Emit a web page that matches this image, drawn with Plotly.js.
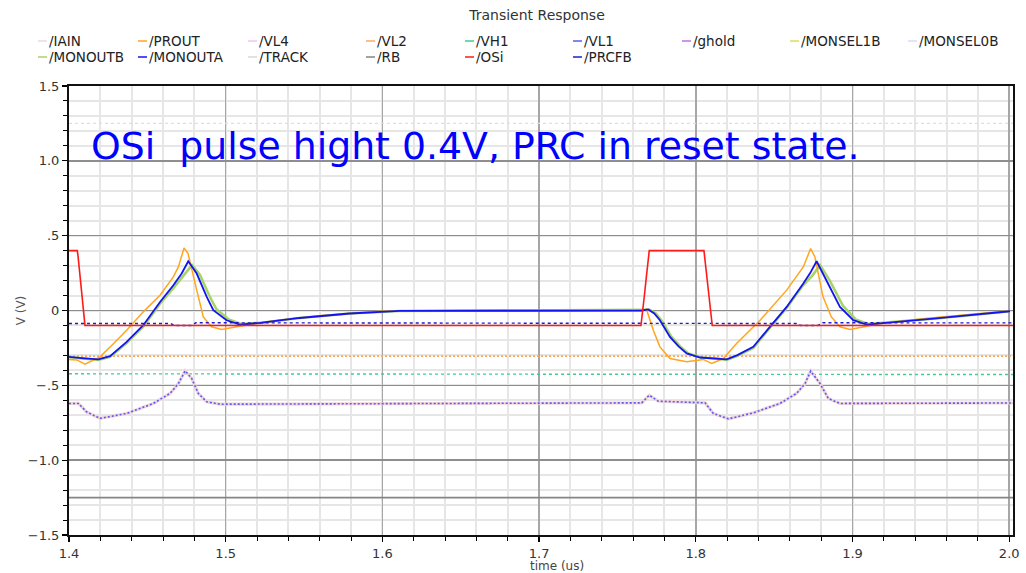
<!DOCTYPE html>
<html>
<head>
<meta charset="utf-8">
<script src="https://cdn.plot.ly/plotly-3.0.1.min.js"></script>
<style>
html,body{margin:0;padding:0;background:#ffffff;}
#chart{width:1026px;height:573px;}
</style>
</head>
<body>
<div id="chart"></div>
<script>
// ---------------- data (time in us, voltage in V) ----------------
// /MONOUTA (blue solid)
const tMONOUTA = [1.400,1.405,1.410,1.4187,1.4262,1.4368,1.4474,1.4581,1.4666,1.4719,1.4761,1.4815,1.4879,1.4921,1.5006,1.5090,1.5219,1.5470,1.5790,1.6110,1.7000,1.7655,1.7697,1.7735,1.7771,1.7835,1.7890,1.7942,1.8027,1.8133,1.8197,1.8262,1.8367,1.8473,1.8580,1.8686,1.8730,1.8771,1.8835,1.8920,1.9005,1.9090,1.9516,2.0005];
const vMONOUTA = [-0.310,-0.316,-0.320,-0.327,-0.305,-0.210,-0.098,0.057,0.169,0.247,0.329,0.247,0.091,0.002,-0.065,-0.094,-0.083,-0.050,-0.020,-0.003,0.000,0.000,0.007,-0.020,-0.065,-0.176,-0.240,-0.287,-0.314,-0.321,-0.327,-0.300,-0.243,-0.109,0.024,0.180,0.250,0.329,0.200,0.024,-0.065,-0.094,-0.054,-0.005];

// /MONOUTB (light green solid, lags MONOUTA)
const tMONOUTB = [1.400,1.410,1.4187,1.4262,1.4368,1.4474,1.4581,1.4666,1.4725,1.4785,1.4835,1.4895,1.4940,1.5020,1.5100,1.5219,1.5470,1.5790,1.6110,1.7000,1.7655,1.7705,1.7745,1.7780,1.7845,1.7900,1.7952,1.8035,1.8133,1.8197,1.8262,1.8367,1.8473,1.8580,1.8686,1.8745,1.8793,1.8855,1.8940,1.9020,1.9100,1.9516,2.0005];
const vMONOUTB = [-0.312,-0.322,-0.330,-0.310,-0.218,-0.108,0.045,0.150,0.225,0.303,0.240,0.100,0.010,-0.060,-0.090,-0.083,-0.050,-0.020,-0.003,0.000,0.000,0.005,-0.020,-0.065,-0.176,-0.240,-0.287,-0.314,-0.321,-0.330,-0.305,-0.250,-0.115,0.018,0.170,0.235,0.303,0.200,0.030,-0.060,-0.090,-0.054,-0.005];

// /PROUT (orange solid)
const tPROUT = [1.400,1.405,1.4102,1.4198,1.4280,1.4368,1.4474,1.4581,1.4666,1.4698,1.4734,1.4760,1.4815,1.4857,1.4910,1.4974,1.5070,1.5134,1.5300,1.5600,1.6000,1.6500,1.7655,1.7685,1.7729,1.7771,1.7835,1.7942,1.8048,1.8101,1.8176,1.8260,1.8410,1.8580,1.8686,1.8733,1.8760,1.8812,1.8865,1.8920,1.8984,1.9090,1.9175,1.9500,2.0005];
const vPROUT = [-0.327,-0.330,-0.359,-0.310,-0.225,-0.132,-0.009,0.102,0.225,0.291,0.418,0.380,0.136,-0.043,-0.109,-0.127,-0.109,-0.098,-0.070,-0.035,-0.005,0.000,0.000,0.009,-0.132,-0.243,-0.321,-0.343,-0.327,-0.354,-0.321,-0.220,-0.065,0.136,0.291,0.414,0.358,0.091,-0.043,-0.109,-0.127,-0.105,-0.087,-0.050,-0.003];

// /OSi (red input pulse)
const tOSi = [1.400,1.4053,1.4058,1.4068,1.4078,1.4088,1.4102,1.7650,1.7660,1.7672,1.7684,1.7695,1.7703,1.8052,1.8063,1.8075,1.8087,1.8097,1.8105,2.0024];
const vOSi = [0.400,0.400,0.360,0.250,0.120,0.020,-0.100,-0.100,-0.020,0.100,0.220,0.340,0.400,0.400,0.300,0.180,0.060,-0.040,-0.100,-0.100];

// lower curve: /VL1 (dotted) over /IAIN (pale shadow)
const tLow = [1.400,1.406,1.4112,1.4198,1.4368,1.4538,1.4645,1.4698,1.4741,1.4783,1.4825,1.4879,1.4964,1.5500,1.6000,1.6500,1.7655,1.7703,1.7761,1.8059,1.8112,1.8208,1.8367,1.8537,1.8643,1.8697,1.8733,1.8793,1.8846,1.8920,1.9500,2.0024];
const vVL1 = [-0.621,-0.621,-0.677,-0.721,-0.688,-0.621,-0.554,-0.488,-0.403,-0.454,-0.554,-0.610,-0.626,-0.624,-0.620,-0.618,-0.617,-0.566,-0.606,-0.617,-0.688,-0.724,-0.684,-0.621,-0.554,-0.488,-0.405,-0.488,-0.588,-0.621,-0.622,-0.618];
const vIAIN = [-0.621,-0.621,-0.677,-0.721,-0.688,-0.621,-0.554,-0.488,-0.403,-0.454,-0.554,-0.610,-0.626,-0.624,-0.620,-0.618,-0.617,-0.566,-0.606,-0.617,-0.688,-0.724,-0.684,-0.621,-0.554,-0.488,-0.405,-0.488,-0.588,-0.621,-0.622,-0.618];

// /PRCFB (dark blue dotted)
const tPRCFB = [1.400,1.465,1.467,1.478,1.481,1.600,1.765,1.865,1.867,1.878,1.881,2.0024];
const vPRCFB = [-0.087,-0.087,-0.100,-0.100,-0.082,-0.084,-0.087,-0.087,-0.100,-0.100,-0.082,-0.083];

// /VH1 (green dotted)
const tVH1 = [1.400,1.450,1.452,1.850,1.875,1.877,2.0024];
const vVH1 = [-0.423,-0.423,-0.427,-0.428,-0.425,-0.428,-0.428];

// /VL2 (orange dotted), /MONSEL0B (pale blue dotted), /RB (grey)
const tFlat = [1.400,2.0024];
const vVL2 = [-0.305,-0.305];
const vMONSEL0B = [1.25,1.25];
const vRB = [-1.25,-1.25];

// legend / series names and colours
const seriesNames = ['/IAIN','/PROUT','/VL4','/VL2','/VH1','/VL1','/ghold','/MONSEL1B','/MONSEL0B','/MONOUTB','/MONOUTA','/TRACK','/RB','/OSi','/PRCFB'];
const seriesColors = ['#f2d6da','#ffa51f','#f5c3ec','#ffa860','#3ccf90','#5b5bf2','#c070e0','#e2d866','#d4def8','#a6d468','#1414f0','#d8d8d8','#858585','#ff1a1a','#1c1cd4'];

// axis ticks
const xTickVals = [1.4,1.5,1.6,1.7,1.8,1.9,2.0];
const xTickText = ['1.4','1.5','1.6','1.7','1.8','1.9','2.0'];
const yTickVals = [-1.5,-1.0,-0.5,0,0.5,1.0,1.5];
const yTickText = ['\u22121.5','\u22121.0','\u2212.5','0','.5','1.0','1.5'];

const chartTitle = 'Transient Response';
const noteText = 'OSi\u00a0\u00a0pulse hight 0.4V, PRC in reset state.';
const xTitle = 'time (us)';
const yTitle = 'V (V)';

// ---------------- layout helpers ----------------
const W = 1026, H = 573;
const M = {l:69, r:13, t:86, b:38};
const PW = W - M.l - M.r, PH = H - M.t - M.b;
const px2x = p => (p - M.l) / PW;
const px2y = p => (H - M.b - p) / PH;
const col = n => seriesColors[seriesNames.indexOf(n)];
const FONT = 'DejaVu Sans, Verdana, sans-serif';

function tr(name, x, y, width, dash) {
  return {type:'scatter', mode:'lines', name:name, x:x, y:y, showlegend:false, hoverinfo:'skip',
          line:{color:col(name), width:width, dash:dash||'solid'}};
}

const traces = [
  tr('/RB', tFlat, vRB, 1.6),
  tr('/MONSEL0B', tFlat, vMONSEL0B, 1.3, '3px,3px'),
  tr('/VL2', tFlat, vVL2, 1.6, '2px,2px'),
  tr('/VH1', tVH1, vVH1, 1.4, '3px,3px'),
  tr('/IAIN', tLow, vIAIN, 3.2),
  tr('/VL1', tLow, vVL1, 1.6, '2px,2px'),
  tr('/MONOUTB', tMONOUTB, vMONOUTB, 2.6),
  tr('/PROUT', tPROUT, vPROUT, 1.5),
  tr('/MONOUTA', tMONOUTA, vMONOUTA, 1.8),
  tr('/PRCFB', tPRCFB, vPRCFB, 1.4, '3px,3px'),
  tr('/OSi', tOSi, vOSi, 1.6)
];

// custom legend (two rows, like the simulator viewer)
const legX = [38,138,248,366,465,573,682,790,908, 38,138,248,366,465,573];
const legY = [41,41,41,41,41,41,41,41,41, 57,57,57,57,57,57];
const legOrder = ['/IAIN','/PROUT','/VL4','/VL2','/VH1','/VL1','/ghold','/MONSEL1B','/MONSEL0B','/MONOUTB','/MONOUTA','/TRACK','/RB','/OSi','/PRCFB'];

const shapes = [];
const annotations = [];
legOrder.forEach((n, i) => {
  shapes.push({type:'line', xref:'paper', yref:'paper',
    x0:px2x(legX[i]), x1:px2x(legX[i]+9), y0:px2y(legY[i]), y1:px2y(legY[i]),
    line:{color:col(n), width:1.5}});
  annotations.push({xref:'paper', yref:'paper', x:px2x(legX[i]+9), y:px2y(legY[i]),
    xanchor:'left', yanchor:'middle', text:n, showarrow:false,
    font:{family:FONT, size:13.5, color:'#222'}});
});

annotations.push({xref:'paper', yref:'paper', x:px2x(89), y:px2y(146), xanchor:'left', yanchor:'middle',
  text:noteText, showarrow:false, font:{family:FONT, size:37.8, color:'#0000ff'}});
annotations.push({xref:'paper', yref:'paper', x:px2x(557), y:px2y(566), xanchor:'center', yanchor:'middle',
  text:xTitle, showarrow:false, font:{family:FONT, size:12, color:'#444'}});

const layout = {
  width:W, height:H, margin:M,
  paper_bgcolor:'#ffffff', plot_bgcolor:'#ffffff',
  showlegend:false,
  title:{text:chartTitle, xref:'container', yref:'container', x:537/W, xanchor:'center',
         y:1-15/H, yanchor:'middle', font:{family:FONT, size:14, color:'#333'}},
  xaxis:{range:[1.4, 1.4 + PW/1567], tickmode:'array', tickvals:xTickVals, ticktext:xTickText,
         showgrid:true, gridcolor:'#a6a6a6', gridwidth:1.5,
         ticks:'outside', ticklen:5, tickwidth:1.3, tickcolor:'#000',
         showline:true, linecolor:'#111', linewidth:2, mirror:true, zeroline:false,
         tickfont:{family:FONT, size:13, color:'#333'},
         minor:{tickmode:'linear', tick0:1.4, dtick:0.02, ticks:'outside', ticklen:4, tickwidth:1, tickcolor:'#000',
                showgrid:true, gridcolor:'#e6e6e6', gridwidth:2}},
  yaxis:{range:[-1.5,1.5], tickmode:'array', tickvals:yTickVals, ticktext:yTickText,
         showgrid:true, gridcolor:'#8e8e8e', gridwidth:1.5,
         ticks:'outside', ticklen:5, tickwidth:1.3, tickcolor:'#000',
         showline:true, linecolor:'#111', linewidth:2, mirror:true, zeroline:false,
         tickfont:{family:FONT, size:13, color:'#333'},
         title:{text:yTitle, standoff:0, font:{family:FONT, size:12, color:'#555'}},
         minor:{tickmode:'linear', tick0:0, dtick:0.1, ticks:'outside', ticklen:4, tickwidth:1, tickcolor:'#000',
                showgrid:true, gridcolor:'#e6e6e6', gridwidth:2}},
  shapes:shapes,
  annotations:annotations
};

Plotly.newPlot('chart', traces, layout, {staticPlot:true, displayModeBar:false});
</script>
</body>
</html>
